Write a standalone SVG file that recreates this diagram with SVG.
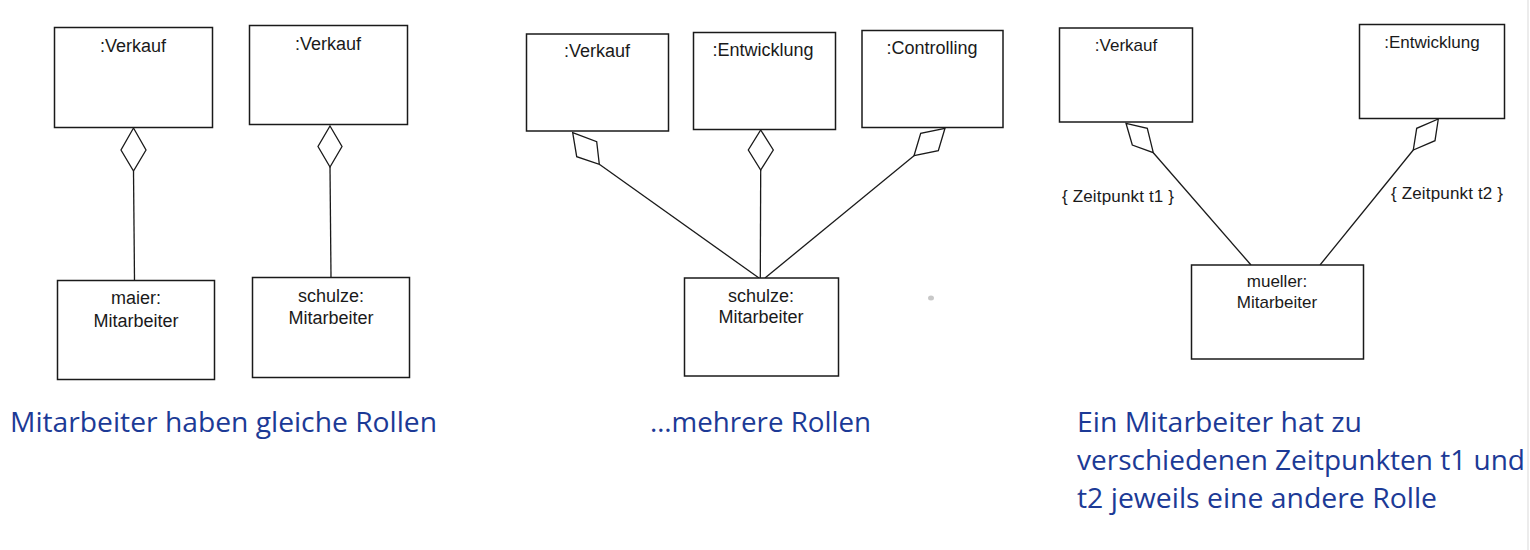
<svg xmlns="http://www.w3.org/2000/svg" width="1530" height="550" viewBox="0 0 1530 550">
<style>
.box{fill:#fff;stroke:#1a1a1a;stroke-width:1.5}
.dia{fill:#fff;stroke:#1a1a1a;stroke-width:1.3}
.ln{fill:none;stroke:#1a1a1a;stroke-width:1.3}
.t{font-family:"Liberation Sans",Arial,sans-serif;font-size:18px;fill:#1a1a1a;text-anchor:middle}
.s{font-size:17px}
.lbl{font-family:"Liberation Sans",Arial,sans-serif;font-size:17px;fill:#1a1a1a}
.cap{font-family:"Open Sans","Noto Sans",sans-serif;font-size:27px;fill:#1c3a96}
</style>
<rect width="1530" height="550" fill="#fff"/>
<line x1="1528" y1="0" x2="1528" y2="550" stroke="#ececec" stroke-width="2"/>

<g id="connectors">
  <line class="ln" x1="133.5" y1="171" x2="134.5" y2="280"/>
  <line class="ln" x1="330" y1="167" x2="331" y2="277"/>
  <line class="ln" x1="599.3" y1="164.3" x2="759" y2="278"/>
  <line class="ln" x1="760.7" y1="170" x2="760.3" y2="278"/>
  <line class="ln" x1="914" y1="155.7" x2="765" y2="278"/>
  <line class="ln" x1="1153.3" y1="152.7" x2="1251" y2="265"/>
  <line class="ln" x1="1413.3" y1="150" x2="1320" y2="265"/>
  <polygon class="dia" points="133.5,128 146,150 133.5,171 121,150"/>
  <polygon class="dia" points="330,126 342,146.5 330,167 318,146.5"/>
  <polygon class="dia" points="572.7,132.7 596.7,141.7 599.3,164.3 576.7,156.7"/>
  <polygon class="dia" points="760.7,130 773.3,150 760.7,170 748.3,150"/>
  <polygon class="dia" points="945,128.3 938.3,150.7 914,155.7 920.7,133.3"/>
  <polygon class="dia" points="1126,123.3 1147.3,128.3 1153.3,152.7 1132.3,145"/>
  <polygon class="dia" points="1438.3,119 1435,140.7 1413.3,150 1416.7,128.3"/>
  <text class="lbl" x="1062" y="202" textLength="112">{ Zeitpunkt t1 }</text>
  <text class="lbl" x="1391" y="199" textLength="112">{ Zeitpunkt t2 }</text>
</g>

<g id="verkauf1">
  <rect class="box" x="54.5" y="27.5" width="158" height="100"/>
  <text class="t" x="133" y="52">:Verkauf</text>
</g>
<g id="maier">
  <rect class="box" x="57.5" y="280.5" width="157" height="99"/>
  <text class="t" x="136" y="304">maier:</text>
  <text class="t" x="136" y="327">Mitarbeiter</text>
</g>
<g id="verkauf2">
  <rect class="box" x="249.5" y="25.5" width="158" height="99"/>
  <text class="t" x="328" y="50">:Verkauf</text>
</g>
<g id="schulze1">
  <rect class="box" x="252.5" y="277.5" width="157" height="100"/>
  <text class="t" x="331" y="302">schulze:</text>
  <text class="t" x="331" y="324">Mitarbeiter</text>
</g>

<g id="verkauf3">
  <rect class="box" x="526.5" y="34" width="142" height="97"/>
  <text class="t" x="597" y="57">:Verkauf</text>
</g>
<g id="entwicklung1">
  <rect class="box" x="693.5" y="32.5" width="142" height="97"/>
  <text class="t" x="763" y="56">:Entwicklung</text>
</g>
<g id="controlling">
  <rect class="box" x="862" y="30.5" width="141" height="97"/>
  <text class="t" x="932" y="54">:Controlling</text>
</g>
<g id="schulze2">
  <rect class="box" x="684.5" y="278" width="154" height="98"/>
  <text class="t" x="761" y="302">schulze:</text>
  <text class="t" x="761" y="323">Mitarbeiter</text>
</g>
<ellipse cx="931" cy="298" rx="3" ry="2.5" fill="#c8c8c8"/>

<g id="verkauf4">
  <rect class="box" x="1059.5" y="28" width="133" height="94"/>
  <text class="t s" x="1126" y="51">:Verkauf</text>
</g>
<g id="entwicklung2">
  <rect class="box" x="1359.5" y="24.5" width="145" height="94"/>
  <text class="t s" x="1432" y="48">:Entwicklung</text>
</g>
<g id="mueller">
  <rect class="box" x="1191.5" y="265" width="172" height="94"/>
  <text class="t s" x="1277" y="287">mueller:</text>
  <text class="t s" x="1277" y="308">Mitarbeiter</text>
</g>

<g id="captions">
  <text class="cap" x="10" y="432" textLength="427" lengthAdjust="spacingAndGlyphs">Mitarbeiter haben gleiche Rollen</text>
  <text class="cap" x="650" y="432" textLength="221" lengthAdjust="spacingAndGlyphs">…mehrere Rollen</text>
  <text class="cap" x="1077" y="432" textLength="285" lengthAdjust="spacingAndGlyphs">Ein Mitarbeiter hat zu</text>
  <text class="cap" x="1077" y="470" textLength="448" lengthAdjust="spacingAndGlyphs">verschiedenen Zeitpunkten t1 und</text>
  <text class="cap" x="1077" y="508" textLength="360" lengthAdjust="spacingAndGlyphs">t2 jeweils eine andere Rolle</text>
</g>
</svg>
